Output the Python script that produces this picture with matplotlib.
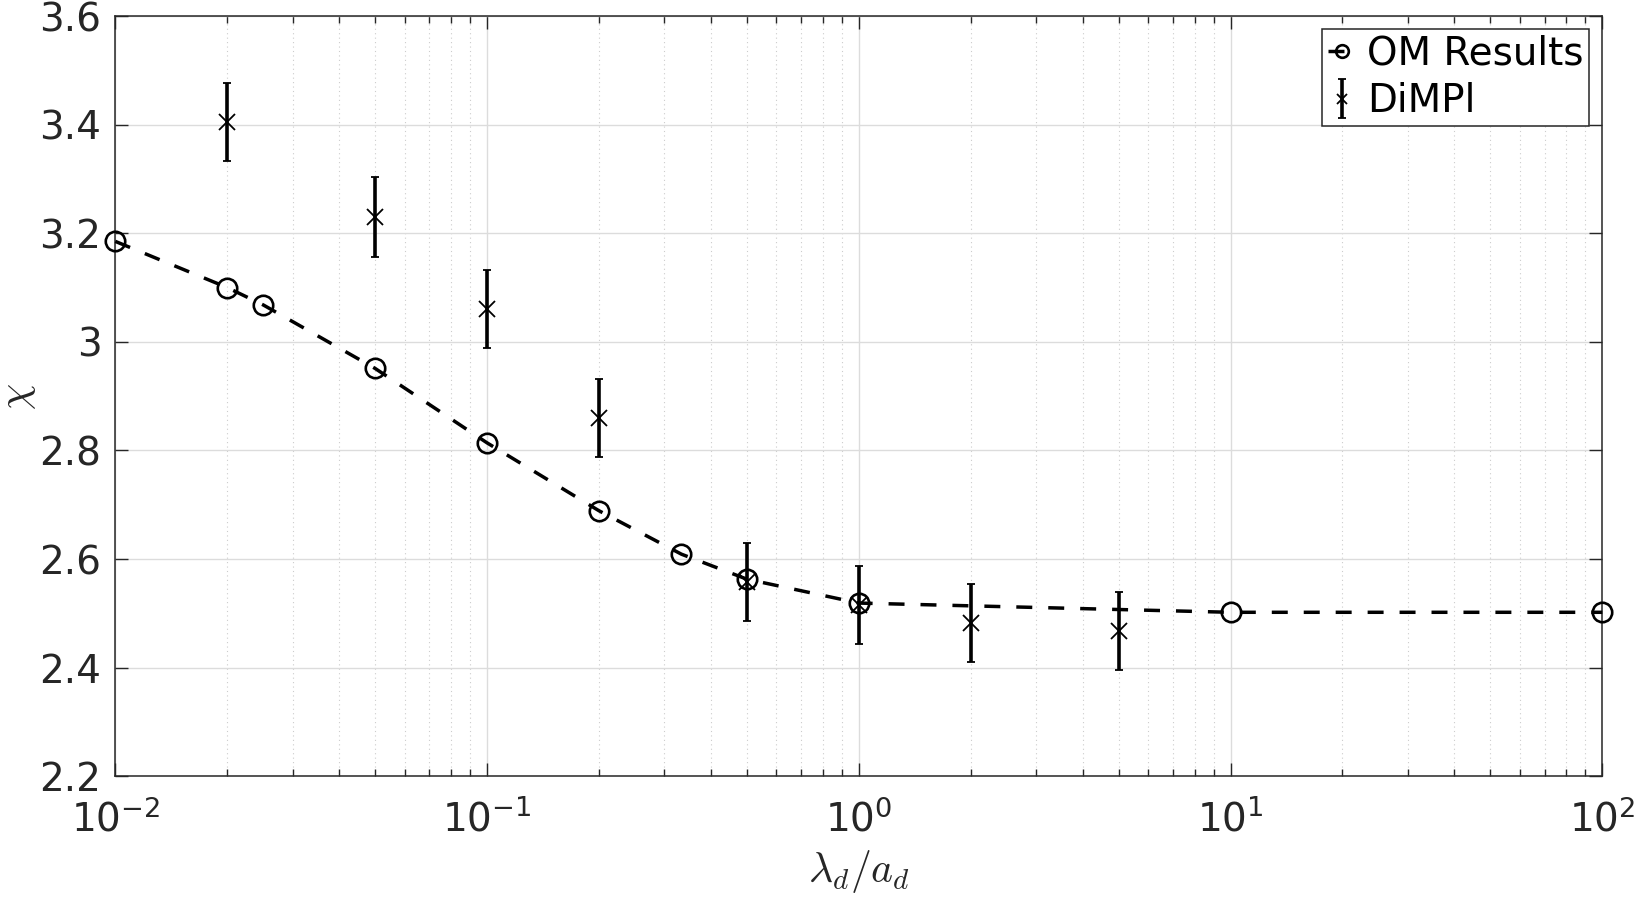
import matplotlib
matplotlib.use("Agg")
import matplotlib.pyplot as plt
from matplotlib.ticker import FixedLocator, FuncFormatter, LogLocator, NullFormatter

# ---- data ----
om_x = [0.01, 0.02, 0.025, 0.05, 0.1, 0.2, 1/3, 0.5, 1, 10, 100]
om_y = [3.185, 3.100, 3.068, 2.951, 2.814, 2.689, 2.609, 2.563, 2.519, 2.502, 2.502]

dimpl_x = [0.02, 0.05, 0.1, 0.2, 0.5, 1, 2, 5]
dimpl_y = [3.405, 3.230, 3.061, 2.860, 2.558, 2.516, 2.483, 2.468]
dimpl_err = [0.072, 0.073, 0.072, 0.072, 0.072, 0.072, 0.072, 0.072]

y_ticks = [2.2, 2.4, 2.6, 2.8, 3.0, 3.2, 3.4, 3.6]
x_ticks = [1e-2, 1e-1, 1e0, 1e1, 1e2]
x_tick_labels = [r'$\mathdefault{10^{-2}}$', r'$\mathdefault{10^{-1}}$', r'$\mathdefault{10^{0}}$',
                 r'$\mathdefault{10^{1}}$', r'$\mathdefault{10^{2}}$']

DPI = 100
fig = plt.figure(figsize=(16.36, 8.97), dpi=DPI)
ax = fig.add_axes([115.3/1636, 1 - 776.3/897, (1602.3-115.3)/1636, (776.3-16)/897])

dark = '#262626'
fs = 28

ax.set_xscale('log')
ax.set_xlim(1e-2, 1e2)
ax.set_ylim(2.2, 3.6)

ax.xaxis.set_major_locator(FixedLocator(x_ticks))
ax.xaxis.set_minor_locator(LogLocator(base=10, subs=range(2, 10), numticks=20))
ax.xaxis.set_minor_formatter(NullFormatter())
ax.set_xticks(x_ticks)
ax.set_xticklabels(x_tick_labels)
ax.set_yticks(y_ticks)
ax.yaxis.set_major_formatter(FuncFormatter(lambda v, p: '%g' % round(v, 3)))

ax.grid(True, which='major', color='#dcdcdc', linestyle='-', linewidth=1.0)
ax.grid(True, which='minor', axis='x', color='#cccccc', linestyle=(0, (1, 3)), linewidth=0.8)
ax.set_axisbelow(True)

ax.tick_params(which='both', direction='in', top=True, right=True, colors=dark,
               labelsize=fs, width=1.0)
ax.tick_params(which='major', length=9.5)
ax.tick_params(which='minor', length=5)
ax.tick_params(axis='y', pad=10)
ax.tick_params(axis='x', pad=17)
for s in ax.spines.values():
    s.set_color(dark)
    s.set_linewidth(1.1)

# OM results
om_line, = ax.plot(om_x, om_y, color='black', linestyle=(0, (4.6, 4.6)), linewidth=2.5,
                   marker='o', markersize=14, markerfacecolor='none', markeredgewidth=1.9,
                   markeredgecolor='black', clip_on=False, zorder=3, label='OM Results')

# DiMPl
eb = ax.errorbar(dimpl_x, dimpl_y, yerr=dimpl_err, fmt='x', color='black', ecolor='black',
                 elinewidth=2.6, capsize=3.2, capthick=2.6, markersize=11, markeredgewidth=1.3,
                 zorder=4, label='DiMPl')

leg = ax.legend(loc='upper right', fontsize=fs, handlelength=0.7, handletextpad=0.3,
                markerscale=0.65, borderaxespad=0.33, borderpad=0.15, labelspacing=0.25,
                fancybox=False, framealpha=1.0, edgecolor=dark)
leg.get_frame().set_linewidth(1.1)

ax.set_xlabel(r'$\lambda_d/a_d$', fontsize=30, color=dark, math_fontfamily='cm', labelpad=6)
ax.set_ylabel(r'$\chi$', fontsize=30, color=dark, math_fontfamily='cm', labelpad=1)

fig.savefig('out.png', dpi=DPI, facecolor='white')
